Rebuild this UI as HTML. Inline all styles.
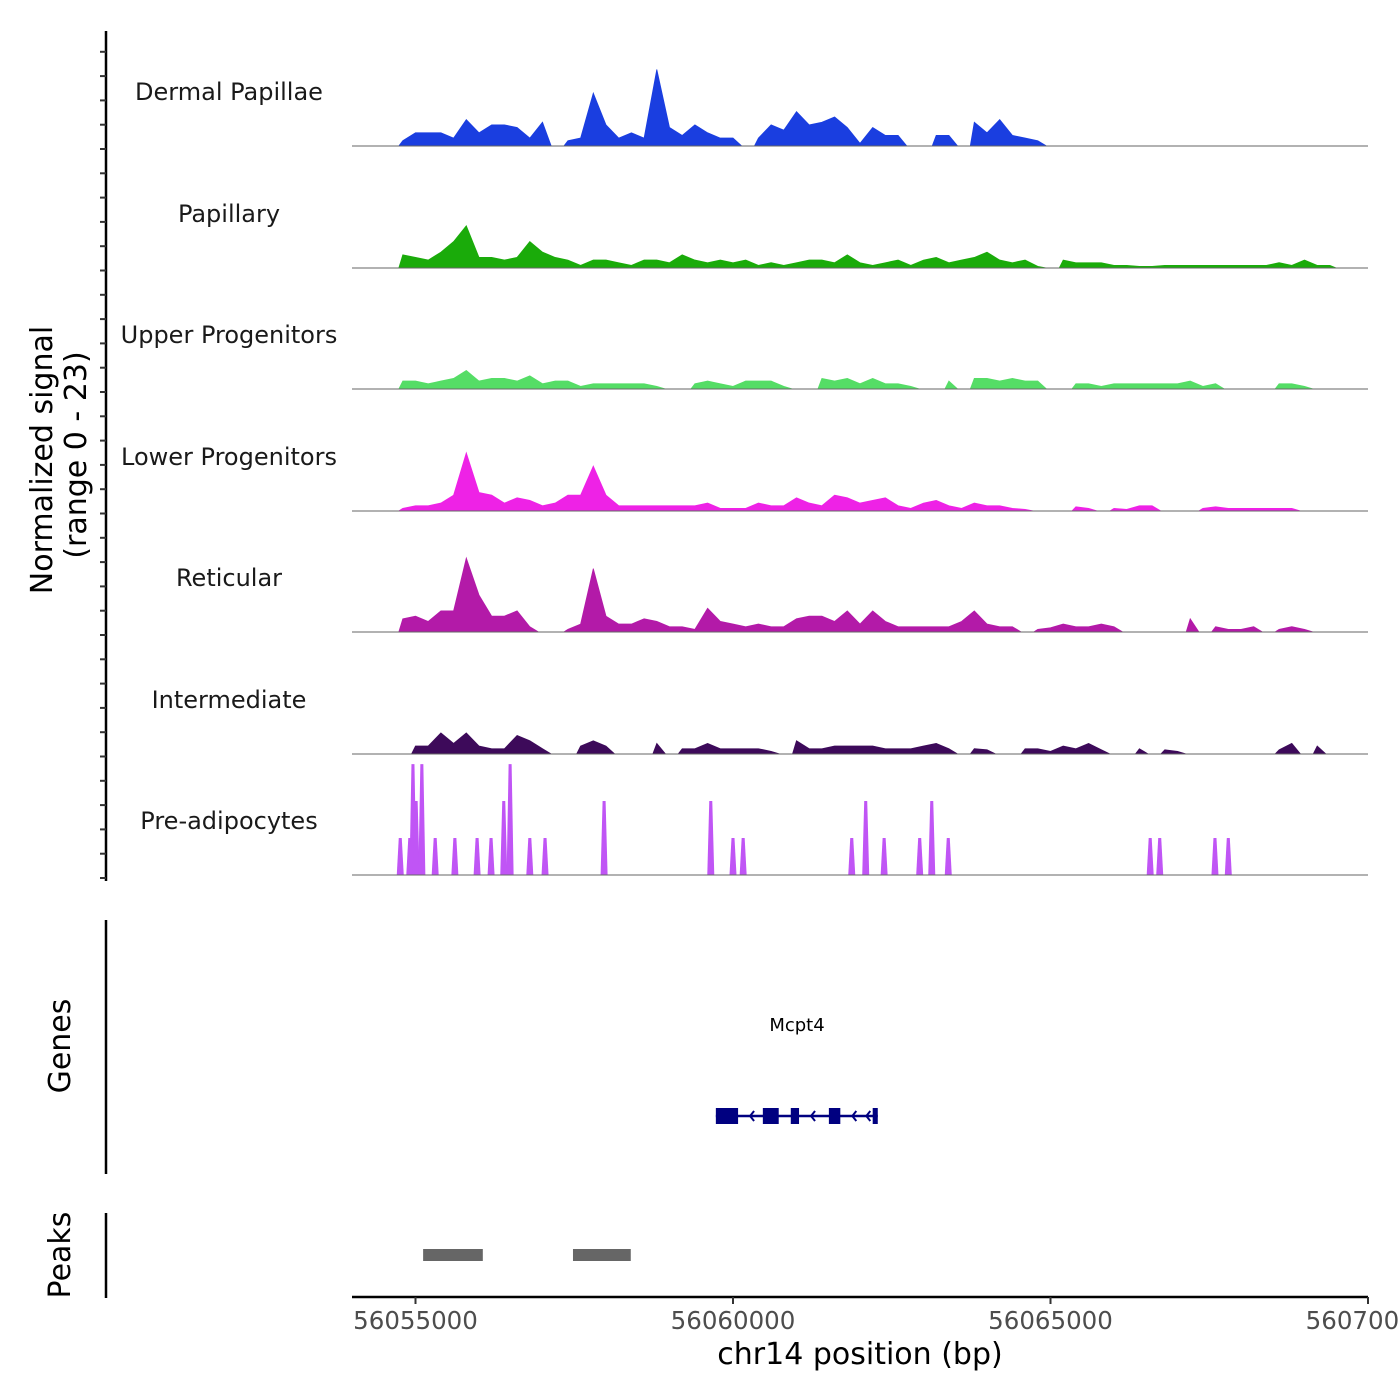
<!DOCTYPE html>
<html><head><meta charset="utf-8"><style>
html,body{margin:0;padding:0;background:#fff;}
svg{display:block;font-family:"DejaVu Sans","Liberation Sans",sans-serif;}
</style></head><body>
<svg id="chart" width="1400" height="1400" viewBox="0 0 1400 1400">
<g id="tracks"></g>
<g id="axes"></g>
</svg>
<script>
// ---- data ----
const trackNames = ["Dermal Papillae","Papillary","Upper Progenitors","Lower Progenitors","Reticular","Intermediate","Pre-adipocytes"];
const trackColors = ["#1a3ee0","#1aab0a","#55dd66","#ee22e6","#b31aa8","#3d0a5a","#c055f5"];
const binStartKb = 54.7;   // genomic bins start (kb offset from 56,000,000)
const binSizeKb = 0.2;
const dermal = [1,2.5,2.5,2.5,1.5,5,2.5,4,4,3.5,1.5,4.5,0,1,1.5,10,4,1.5,2.5,1.5,14.5,3.5,2,4,2.5,1.5,1.5,0,1.5,4,3,6.5,4,4.5,5.5,3.5,0.5,3.5,2,2,0,0,2,2,0,4.5,2.5,5,2,1.5,1,0,0,0,0,0,0,0,0,0,0,0,0,0,0,0,0,0,0,0,0,0,0,0];
const papillary = [2.5,2,1.5,3,5,8,2,2,1.5,2,5,3,2,1.5,0.5,1.5,1.5,1,0.5,1.5,1.5,1,2.5,1.5,1,1.5,1,1.5,0.5,1,0.5,1,1.5,1.5,1,2.5,1,0.5,1,1.5,0.5,1.5,2,1,1.5,2,3,1.5,1,1.5,0.3,0,1.5,1,1,1,0.5,0.5,0.3,0.3,0.5,0.5,0.5,0.5,0.5,0.5,0.5,0.5,0.5,1,0.5,1.5,0.5,0.5];
const upperProg = [1.5,1.5,1,1.5,2,3.5,1.5,2,2,1.5,2.5,1,1.5,1.5,0.5,1,1,1,1,1,0.5,0,0,1,1.5,1,0.5,1.5,1.5,1.5,0.5,0,0,2,1.5,2,1,2,1,1,0.5,0,0,1.5,0,2,2,1.5,2,1.5,1.5,0,0,1,1,0.5,1,1,1,1,1,1,1.5,0.5,1,0,0,0,0,1,1,0.5,0,0];
const lowerProg = [0.5,1,1,1.5,3,11,3.5,3,1.5,2.5,2,1,1.5,3,3,8.5,3,1,1,1,1,1,1,1,1.5,0.5,0.5,0.5,1.5,1,1,2.5,1.5,1,3,2.5,1.5,2,2.5,1,0.5,1.5,2,1,0.5,1.5,1,1,0.5,0.3,0,0,0,0.8,0.5,0,0.5,0.3,1,1,0,0,0,0.5,0.8,0.5,0.5,0.5,0.5,0.5,0.5,0,0,0];
const reticular = [2.5,3,2,4,4,14,7,3,3,4,1,0,0,0.5,1.5,12,3,1.5,1.5,2.5,2,1,1,0.5,4.5,2,1.5,1,1.5,1,1,2.5,3,3,2,4,1.5,4,2,1,1,1,1,1,2,4,1.5,1,1,0,0.5,0.8,1.5,1,1,1.5,1,0,0,0,0,0,2.5,0,1,0.5,0.5,1,0,0.5,1,0.5,0,0];
const intermediate = [0,1.5,1.5,4,2,4,1.5,1,1,3.5,2.5,1,0,0,1.5,2.5,1.5,0,0,0,2,0,1,1,2,1,1,1,1,0.5,0,2.5,1,1,1.5,1.5,1.5,1.5,1,1,1,1.5,2,1,0,1,0.8,0,0,1,1,0.5,1.5,1,2,0.8,0,0,1,0,0.8,0.5,0,0,0,0,0,0,0,0.8,2,0,1.5,0];
const preadipPosKb = [54.76,54.91,54.96,55.01,55.10,55.31,55.62,55.97,56.19,56.39,56.49,56.80,57.04,57.97,59.65,60.00,60.16,61.87,62.09,62.38,62.94,63.13,63.39,66.57,66.72,67.59,67.80];
const preadipVal = [7,7,21,14,21,7,7,7,7,14,21,7,7,14,14,7,7,7,14,7,7,14,7,7,7,7,7];
const binnedTracks = [dermal,papillary,upperProg,lowerProg,reticular,intermediate];
const geneExonsStartKb = [59.73,60.47,60.91,61.51,62.20];
const geneExonsEndKb   = [60.08,60.72,61.04,61.69,62.28];
const geneStartKb = 59.73, geneEndKb = 62.28;
const peakStartKb = [55.12,57.48];
const peakEndKb   = [56.06,58.39];
const xTicksBp = [56055000,56060000,56065000,56070000];
const yMax = 23;

// ---- scales ----
const NS="http://www.w3.org/2000/svg";
const xMinKb=54.0, xMaxKb=70.0, plotL=352, plotR=1368;
function xs(kb){return plotL+(kb-xMinKb)/(xMaxKb-xMinKb)*(plotR-plotL);}
const baselines=[146,268,389,511,632,754,875];
const trackH=121.5;
function ys(t,v){return baselines[t]-v/yMax*trackH;}
function mk(tag,attrs,parent){const e=document.createElementNS(NS,tag);for(const k in attrs)e.setAttribute(k,attrs[k]);parent.appendChild(e);return e;}
const gT=document.getElementById('tracks'), gA=document.getElementById('axes');

binnedTracks.forEach((vals,t)=>{
  let d="";
  let open=false;
  vals.forEach((v,i)=>{
    const cx=xs(binStartKb+(i+0.5)*binSizeKb);
    if(v>0){
      if(!open){d+="M"+(cx-4)+","+baselines[t]+" ";open=true;}
      d+="L"+cx+","+ys(t,v)+" ";
    } else if(open){
      d+="L"+(cx-4)+","+baselines[t]+" Z ";open=false;
    }
  });
  if(open){d+="L"+(xs(binStartKb+vals.length*binSizeKb))+","+baselines[t]+" Z";}
  const p=mk('path',{d:d,fill:trackColors[t],stroke:trackColors[t],'stroke-width':0.8},gT);
  
  
});
preadipPosKb.forEach((kb,i)=>{
  const cx=xs(kb), b=baselines[6], top=ys(6,preadipVal[i]);
  const p=mk('polygon',{points:(cx-3.5)+","+b+" "+(cx-1.5)+","+top+" "+(cx+1.5)+","+top+" "+(cx+3.5)+","+b,fill:trackColors[6]},gT);
  
  
});
baselines.forEach((b,t)=>{
  const l=mk('line',{x1:plotL,x2:plotR,y1:b,y2:b,stroke:'#666','stroke-width':1},gT);
  
  
  const tx=mk('text',{x:229,y:b-46,'text-anchor':'middle','font-size':24,fill:'#1a1a1a'},gT);
  tx.textContent=trackNames[t];
  
  
});
let e=mk('line',{x1:106,x2:106,y1:31,y2:881,stroke:'#000','stroke-width':2.5},gA);


for(let k=0;k<=34;k++){
  const y=878-k*24.3;
  const t=mk('line',{x1:100,x2:106,y1:y,y2:y,stroke:'#333','stroke-width':2},gA);
  
  
}
e=mk('text',{transform:'translate(52,460) rotate(-90)','text-anchor':'middle','font-size':30,fill:'#000'},gA);
e.textContent="Normalized signal";


e=mk('text',{transform:'translate(86,455) rotate(-90)','text-anchor':'middle','font-size':30,fill:'#000'},gA);
e.textContent="(range 0 - 23)";


e=mk('line',{x1:106,x2:106,y1:920,y2:1174,stroke:'#000','stroke-width':2.5},gA);


e=mk('text',{transform:'translate(70,1046) rotate(-90)','text-anchor':'middle','font-size':30,fill:'#000'},gA);
e.textContent="Genes";


e=mk('text',{x:797,y:1031,'text-anchor':'middle','font-size':18,fill:'#000'},gA);
e.textContent="Mcpt4";


e=mk('line',{x1:xs(geneStartKb),x2:xs(geneEndKb),y1:1116,y2:1116,stroke:'#000080','stroke-width':2.5},gA);


geneExonsStartKb.forEach((s,i)=>{
  const x1=xs(s),x2=xs(geneExonsEndKb[i]);
  const r=mk('rect',{x:x1,y:1108,width:Math.max(3,x2-x1),height:16,fill:'#000080'},gA);
  
  
  if(i<geneExonsStartKb.length-1){
    const nx=xs(geneExonsStartKb[i+1]);
    for(let a=x2+12;a<nx-4;a+=14){
      const ar=mk('polyline',{points:(a+4)+",1111 "+a+",1116 "+(a+4)+",1121",fill:'none',stroke:'#000080','stroke-width':2},gA);
      
      
    }
  }
});
e=mk('line',{x1:106,x2:106,y1:1213,y2:1298,stroke:'#000','stroke-width':2.5},gA);


e=mk('text',{transform:'translate(70,1255) rotate(-90)','text-anchor':'middle','font-size':30,fill:'#000'},gA);
e.textContent="Peaks";


peakStartKb.forEach((s,i)=>{
  const r=mk('rect',{x:xs(s),y:1249,width:xs(peakEndKb[i])-xs(s),height:12,fill:'#666'},gA);
  
  
});
e=mk('line',{x1:plotL,x2:plotR,y1:1297,y2:1297,stroke:'#000','stroke-width':2.5},gA);


xTicksBp.forEach(bp=>{
  const x=xs(bp/1000-56000);
  const t=mk('line',{x1:x,x2:x,y1:1297,y2:1304,stroke:'#333','stroke-width':2},gA);
  
  
  const l=mk('text',{x:x,y:1329,'text-anchor':'middle','font-size':24.5,fill:'#4d4d4d'},gA);
  l.textContent=String(bp);
  
  
});
e=mk('text',{x:860,y:1364,'text-anchor':'middle','font-size':30,fill:'#000'},gA);
e.textContent="chr14 position (bp)";


</script>
</body></html>
